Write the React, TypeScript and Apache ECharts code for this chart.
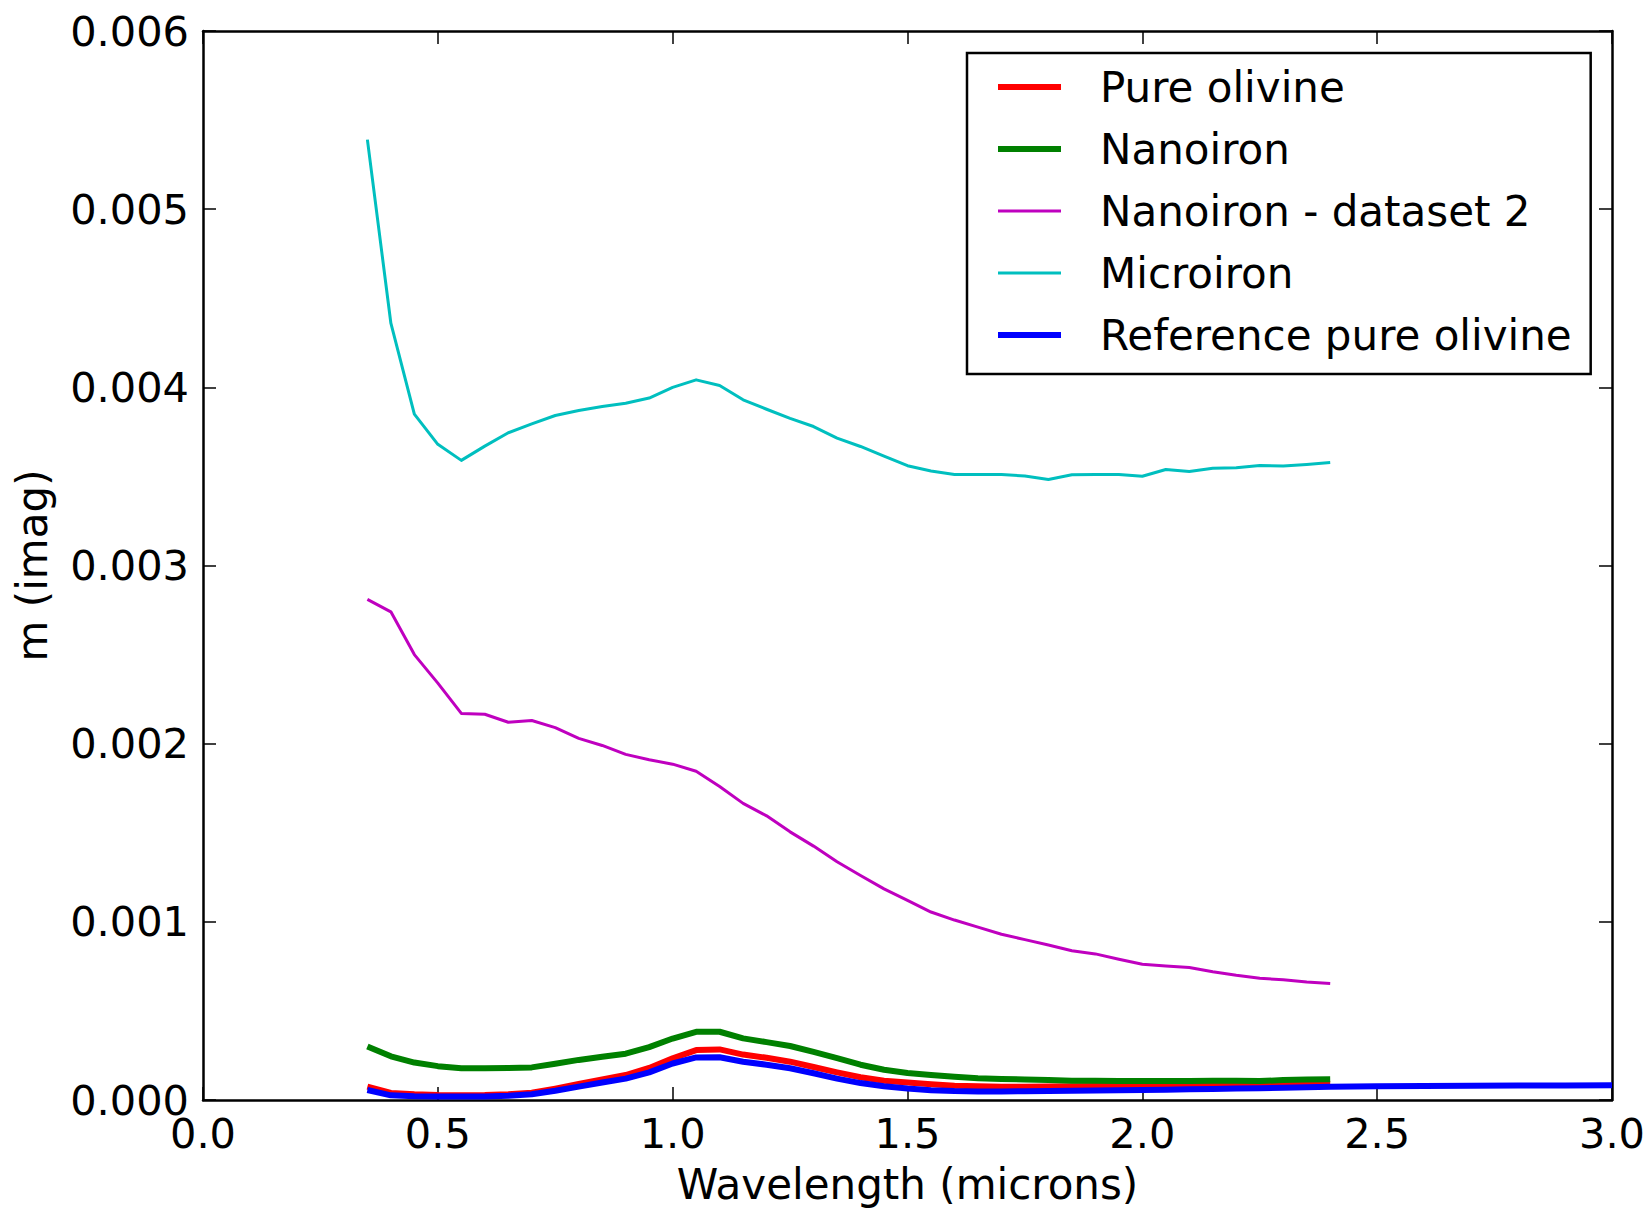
import React, { useEffect, useRef } from "react";
import * as echarts from "echarts";

// Wavelength grid (microns) shared by the measured samples
const wavelength = [
  0.35, 0.4, 0.45, 0.5, 0.55, 0.6, 0.65, 0.7, 0.75, 0.8, 0.85, 0.9, 0.95, 1.0,
  1.05, 1.1, 1.15, 1.2, 1.25, 1.3, 1.35, 1.4, 1.45, 1.5, 1.55, 1.6, 1.65, 1.7,
  1.75, 1.8, 1.85, 1.9, 1.95, 2.0, 2.05, 2.1, 2.15, 2.2, 2.25, 2.3, 2.35, 2.4,
];

// Imaginary part of the refractive index, in units of 1e-3
const pureOlivine = [
  0.075, 0.04, 0.032, 0.028, 0.027, 0.028, 0.032, 0.041, 0.064, 0.09, 0.115,
  0.14, 0.18, 0.234, 0.28, 0.284, 0.255, 0.237, 0.215, 0.185, 0.155, 0.128,
  0.108, 0.098, 0.088, 0.08, 0.077, 0.075, 0.075, 0.076, 0.077, 0.078, 0.079,
  0.08, 0.081, 0.082, 0.084, 0.085, 0.086, 0.088, 0.089, 0.09,
];

const nanoiron = [
  0.3, 0.245, 0.21, 0.19, 0.178, 0.178, 0.18, 0.183, 0.203, 0.225, 0.243, 0.26,
  0.297, 0.345, 0.383, 0.383, 0.346, 0.325, 0.303, 0.27, 0.235, 0.198, 0.17,
  0.152, 0.14, 0.13, 0.122, 0.118, 0.115, 0.112, 0.108, 0.108, 0.107, 0.107,
  0.107, 0.106, 0.108, 0.108, 0.106, 0.112, 0.115, 0.117,
];

const nanoironSet2 = [
  2.81, 2.74, 2.5, 2.34, 2.17, 2.165, 2.12, 2.13, 2.09, 2.03, 1.99, 1.94, 1.91,
  1.885, 1.845, 1.76, 1.665, 1.595, 1.505, 1.425, 1.337, 1.26, 1.185, 1.12,
  1.055, 1.01, 0.97, 0.93, 0.9, 0.87, 0.838, 0.82, 0.79, 0.762, 0.752, 0.744,
  0.72, 0.7, 0.683, 0.675, 0.662, 0.654,
];

const microiron = [
  5.39, 4.36, 3.85, 3.68, 3.59, 3.67, 3.745, 3.795, 3.842, 3.87, 3.892, 3.911,
  3.94, 4.0, 4.042, 4.01, 3.93, 3.877, 3.826, 3.78, 3.715, 3.668, 3.614, 3.56,
  3.53, 3.511, 3.511, 3.511, 3.502, 3.483, 3.509, 3.511, 3.511, 3.501, 3.539,
  3.528, 3.546, 3.548, 3.561, 3.558, 3.567, 3.578,
];

// Reference spectrum extends further into the infrared
const refWavelength = [
  0.35, 0.4, 0.45, 0.5, 0.55, 0.6, 0.65, 0.7, 0.75, 0.8, 0.85, 0.9, 0.95, 1.0,
  1.05, 1.1, 1.15, 1.2, 1.25, 1.3, 1.35, 1.4, 1.45, 1.5, 1.55, 1.6, 1.65, 1.7,
  1.75, 1.8, 1.85, 1.9, 1.95, 2.0, 2.05, 2.1, 2.15, 2.2, 2.25, 2.3, 2.35, 2.4,
  2.5, 2.6, 2.7, 2.8, 2.9, 3.0,
];

const referenceOlivine = [
  0.056, 0.026, 0.021, 0.019, 0.019, 0.02, 0.024, 0.032, 0.052, 0.075, 0.098,
  0.12, 0.155, 0.205, 0.239, 0.24, 0.215, 0.198, 0.178, 0.15, 0.12, 0.095,
  0.077, 0.064, 0.055, 0.05, 0.048, 0.048, 0.049, 0.05, 0.052, 0.053, 0.055,
  0.056, 0.058, 0.06, 0.062, 0.064, 0.066, 0.069, 0.072, 0.075, 0.077, 0.079,
  0.08, 0.081, 0.082, 0.083,
];

const seriesNames = [
  "Pure olivine",
  "Nanoiron",
  "Nanoiron - dataset 2",
  "Microiron",
  "Reference pure olivine",
];

const FONT = "DejaVu Sans";
const FS = 42;
const TICK_FS = 41.5;

const pairs = (xs: number[], ys: number[]) =>
  xs.map((x, i) => [x, ys[i] * 1e-3]);

export default function App() {
  const ref = useRef<HTMLDivElement>(null);

  useEffect(() => {
    if (!ref.current) return;
    const chart = echarts.init(ref.current, null, { renderer: "svg" });

    const lineSeries = (
      name: string,
      data: number[][],
      color: string,
      width: number
    ) => ({
      name,
      type: "line",
      data,
      symbol: "none",
      showSymbol: false,
      xAxisIndex: 0,
      yAxisIndex: 0,
      lineStyle: { color, width, join: "round", cap: "butt" },
      itemStyle: { color },
      emphasis: { disabled: true },
    });

    const axisLine = {
      show: true,
      onZero: false,
      lineStyle: { color: "#000", width: 2.5 },
    };
    const axisTick = {
      show: true,
      inside: true,
      length: 13,
      lineStyle: { color: "#000", width: 1.5 },
    };

    const thick = 6;
    const thin = 3;

    chart.setOption({
      animation: false,
      backgroundColor: "#fff",
      textStyle: { fontFamily: FONT },
      grid: { left: 203, right: 36, top: 31, bottom: 110, containLabel: false },
      legend: {
        orient: "vertical",
        left: 967,
        top: 53,
        padding: [12, 19, 17, 28],
        itemWidth: 63,
        itemHeight: 14,
        itemGap: 18,
        borderColor: "#000",
        borderWidth: 2.5,
        borderRadius: 0,
        backgroundColor: "#fff",
        itemStyle: { opacity: 0 },
        textStyle: {
          fontFamily: FONT,
          fontSize: FS,
          color: "#000",
          lineHeight: 44,
          padding: [0, 0, 0, 34],
        },
        data: [
          { name: seriesNames[0], lineStyle: { width: thick } },
          { name: seriesNames[1], lineStyle: { width: thick } },
          { name: seriesNames[2], lineStyle: { width: thin } },
          { name: seriesNames[3], lineStyle: { width: thin } },
          { name: seriesNames[4], lineStyle: { width: thick } },
        ],
        selectedMode: false,
      },
      xAxis: [
        {
          type: "value",
          position: "bottom",
          min: 0,
          max: 3,
          interval: 0.5,
          name: "Wavelength (microns)",
          nameLocation: "middle",
          nameGap: 63,
          nameTextStyle: { fontFamily: FONT, fontSize: FS, color: "#000" },
          axisLine,
          axisTick,
          splitLine: { show: false },
          axisLabel: {
            fontFamily: FONT,
            fontSize: TICK_FS,
            color: "#000",
            margin: 12,
            formatter: (v: number) => v.toFixed(1),
          },
        },
        {
          type: "value",
          position: "top",
          min: 0,
          max: 3,
          interval: 0.5,
          axisLine,
          axisTick,
          splitLine: { show: false },
          axisLabel: { show: false },
        },
      ],
      yAxis: [
        {
          type: "value",
          position: "left",
          min: 0,
          max: 0.006,
          interval: 0.001,
          name: "m (imag)",
          nameLocation: "middle",
          nameGap: 150,
          nameRotate: 90,
          nameTextStyle: { fontFamily: FONT, fontSize: FS, color: "#000" },
          axisLine,
          axisTick,
          splitLine: { show: false },
          axisLabel: {
            fontFamily: FONT,
            fontSize: TICK_FS,
            color: "#000",
            margin: 14,
            formatter: (v: number) => v.toFixed(3),
          },
        },
        {
          type: "value",
          position: "right",
          min: 0,
          max: 0.006,
          interval: 0.001,
          axisLine,
          axisTick,
          splitLine: { show: false },
          axisLabel: { show: false },
        },
      ],
      series: [
        lineSeries(seriesNames[0], pairs(wavelength, pureOlivine), "#ff0000", thick),
        lineSeries(seriesNames[1], pairs(wavelength, nanoiron), "#008000", thick),
        lineSeries(seriesNames[2], pairs(wavelength, nanoironSet2), "#bf00bf", thin),
        lineSeries(seriesNames[3], pairs(wavelength, microiron), "#00bfbf", thin),
        lineSeries(seriesNames[4], pairs(refWavelength, referenceOlivine), "#0000ff", thick),
      ],
    });

    return () => chart.dispose();
  }, []);

  return (
    <div
      ref={ref}
      style={{ position: "absolute", left: 0, top: 0, width: 1648, height: 1210 }}
    />
  );
}
